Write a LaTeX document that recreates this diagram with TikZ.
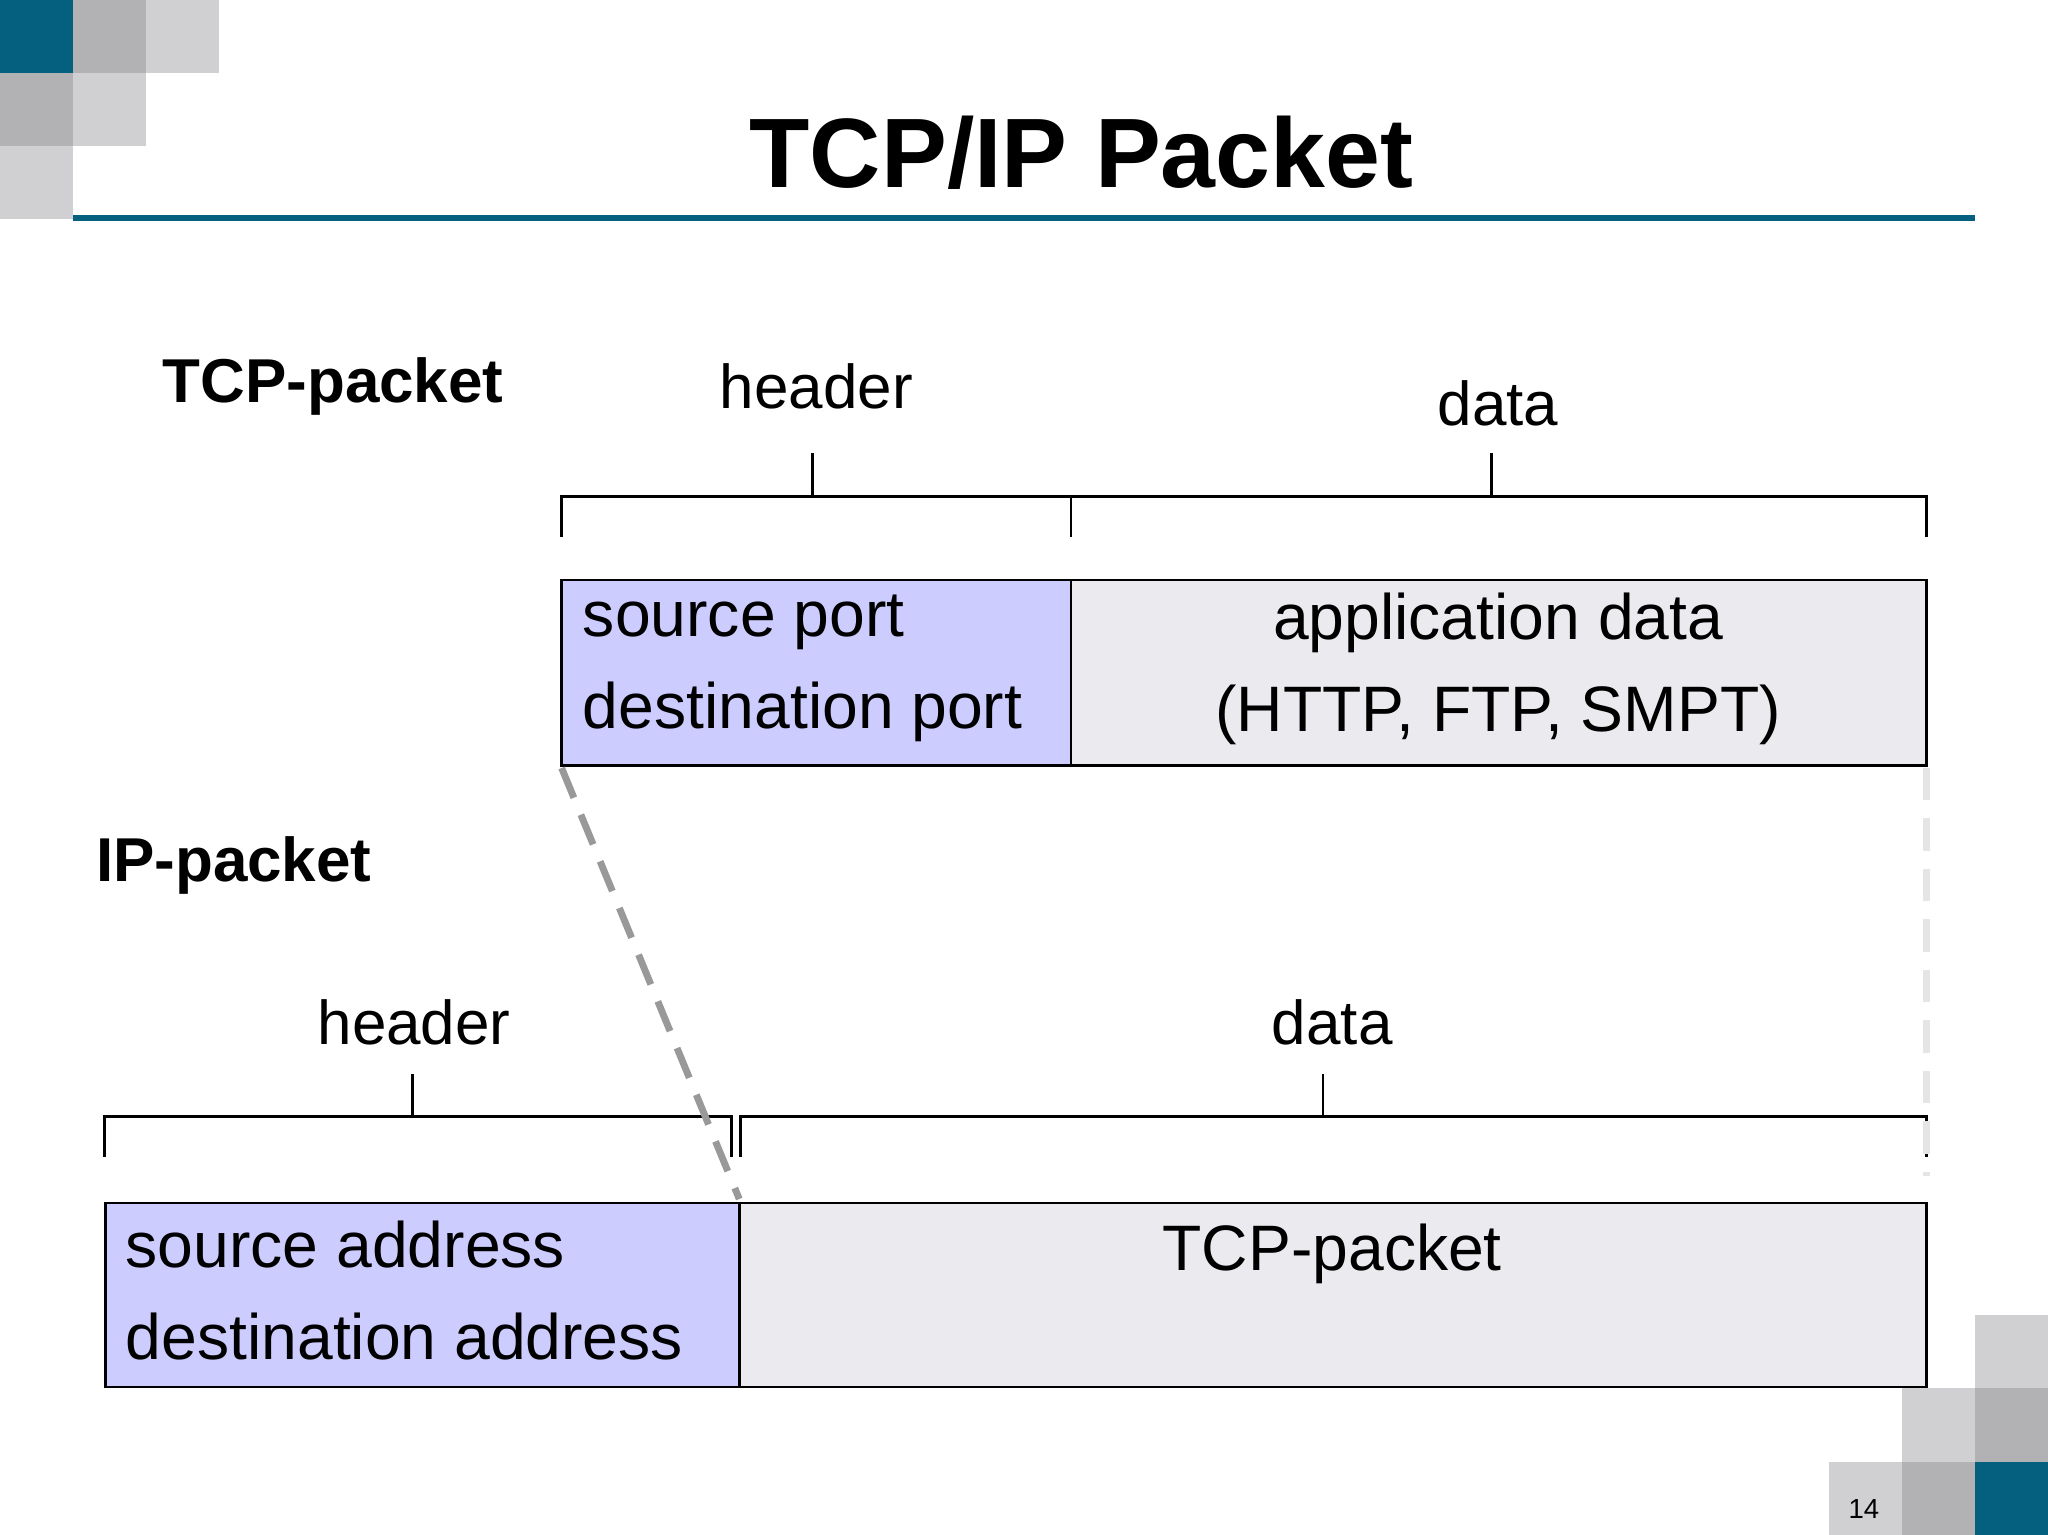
\documentclass[tikz,border=0pt]{standalone}
\usepackage{fontspec}
\setmainfont{Liberation Sans}
\definecolor{teal}{HTML}{05607F}
\definecolor{dg}{HTML}{B2B2B4}
\definecolor{lg}{HTML}{D0D0D2}
\definecolor{lav}{HTML}{CCCCFF}
\definecolor{pale}{HTML}{EBEAEE}
\begin{document}
\begin{tikzpicture}[x=0.02cm,y=-0.02cm,
 box/.style={draw=black,line width=1.2pt,inner sep=0},
 lbl/.style={font=\fontsize{27}{32}\selectfont,inner sep=0},
 btxt/.style={font=\fontsize{28}{40}\selectfont,inner sep=0,align=left},
 brk/.style={line width=1.1pt}]
\useasboundingbox (0,0) rectangle (1568,1175);
% decorative squares
\fill[teal] (0,0) rectangle (56,56);
\fill[dg] (56,0) rectangle (112,56);
\fill[lg] (112,0) rectangle (168,56);
\fill[dg] (0,56) rectangle (56,112);
\fill[lg] (56,56) rectangle (112,112);
\fill[lg] (0,112) rectangle (56,168);
\fill[lg] (1512,1007) rectangle (1568,1063);
\fill[lg] (1456,1063) rectangle (1512,1119);
\fill[dg] (1512,1063) rectangle (1568,1119);
\fill[lg] (1400,1119) rectangle (1456,1175);
\fill[dg] (1456,1119) rectangle (1512,1175);
\fill[teal] (1512,1119) rectangle (1568,1175);
\node[font=\fontsize{12}{14}\selectfont] (pg) at (1427,1155) {14};
\draw[teal,line width=2.5pt] (56,167) -- (1512,167);
\node[font=\fontsize{43}{50}\bfseries\selectfont] (title) at (828,117) {TCP/IP Packet};
% TCP boxes
\draw[box,fill=lav] (430,444) rectangle (820,586);
\draw[box,fill=pale] (820,444) rectangle (1475,586);
\coordinate (th) at (430,586);
\node[btxt,anchor=west] (sp) at (446,512) {source port\\destination port};
\node[btxt,align=center] (ad) at (1147,512) {application data\\(HTTP, FTP, SMPT)};
% IP boxes
\draw[box,fill=lav] (81,921) rectangle (566,1062);
\draw[box,fill=pale] (566,921) rectangle (1475,1062);
\node[btxt,anchor=west] (sa) at (96,988) {source address\\destination address};
\node[btxt] (tp) at (1020,960) {TCP-packet};
% brackets
\draw[brk] (430,411) -- (430,380) -- (820,380) -- (820,411);
\draw[brk] (622,380) -- (622,347);
\draw[brk] (820,380) -- (1475,380) -- (1475,411);
\draw[brk] (1142,380) -- (1142,347);
\draw[brk] (80,886) -- (80,855) -- (560,855) -- (560,886);
\draw[brk] (316,855) -- (316,822);
\draw[brk] (567,886) -- (567,855) -- (1475,855) -- (1475,886);
\draw[brk] (1013,855) -- (1013,822);
% labels
\node[lbl,font=\fontsize{27}{32}\bfseries\selectfont] (tcpl) at (255,296) {TCP-packet};
\node[lbl] (h1) at (625,296) {header};
\node[lbl] (d1) at (1147,309) {data};
\node[lbl,font=\fontsize{27}{32}\bfseries\selectfont] (ipl) at (179,663) {IP-packet};
\node[lbl] (h2) at (317,783) {header};
\node[lbl] (d2) at (1020,783) {data};
% dashed
\coordinate (a1) at (430,588); \coordinate (a2) at (566,918);
\coordinate (b1) at (1475,588); \coordinate (b2) at (1475,900);
\draw[gray!80,line width=3pt,dash pattern=on 14pt off 8pt] (a1) -- (a2);
\draw[gray!20,line width=3pt,dash pattern=on 14pt off 8pt] (b1) -- (b2);
\end{tikzpicture}
\end{document}
